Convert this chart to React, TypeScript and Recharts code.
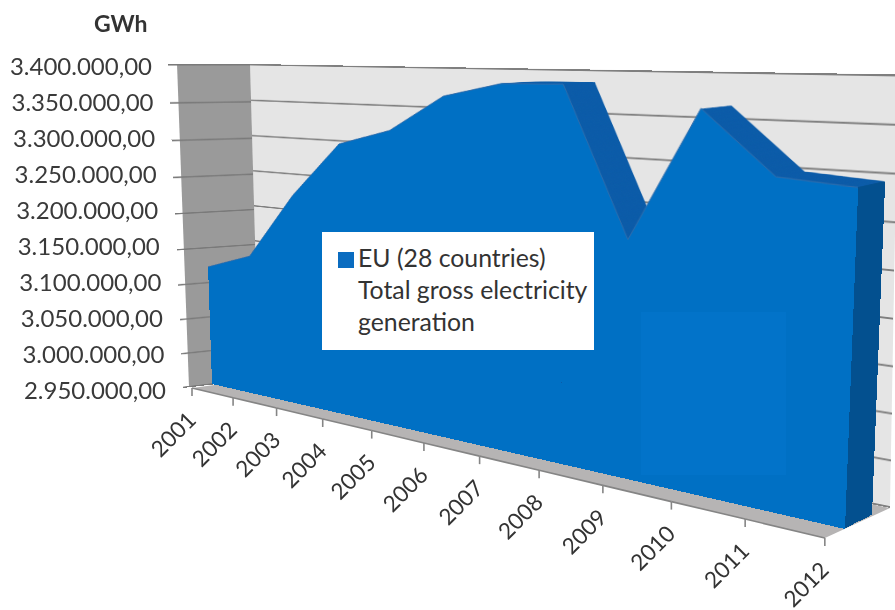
import React from "react";
import {
  Area,
  AreaChart,
  CartesianGrid,
  Legend,
  ReferenceLine,
  XAxis,
  YAxis,
} from "recharts";

const YEARS = ["2001", "2002", "2003", "2004", "2005", "2006", "2007", "2008", "2009", "2010", "2011", "2012"];
const GENERATION = [3115000, 3138000, 3225000, 3295000, 3315000, 3358000, 3374000, 3375000, 3213000, 3354000, 3290000, 3285000];
const Y_TICKS = [2950000, 3000000, 3050000, 3100000, 3150000, 3200000, 3250000, 3300000, 3350000, 3400000];
const LEGEND_LINES = ["EU (28 countries)", "Total gross electricity", "generation"];

const Y_MIN = 2950000;
const Y_MAX = 3400000;
const chartData = YEARS.map((year, i) => ({ year, value: GENERATION[i] }));

const FONT = "Lato, sans-serif";
const FACE = "#0070c4";
const SIDE = "#0b5ba8";
const END = "#03508f";

// flat size of every chart before it is projected onto its plane
const FLAT_W = 800;
const FLAT_H = 450;

type Pt = [number, number];
type Quad = [Pt, Pt, Pt, Pt]; // top-left, top-right, bottom-right, bottom-left

const FACE_QUAD: Quad = [[201, 57], [863, 64], [845, 529], [212, 384]];
const BACK_SHIFT: Quad = [[30, 0], [27, -3], [27, -14], [30, -2]];
const SWEEP_LAYERS = 26;

const WALL_QUAD: Quad = [[250, 64], [898, 74.5], [890, 508], [259, 379]];
const SIDE_WALL_QUAD: Quad = [[177, 64], [250, 64], [259, 379], [189, 387]];
const SIDE_GRID_QUAD: Quad = [[168, 64], [250, 64], [259, 379], [183, 388]];
const FLOOR_QUAD: Quad = [[259, 379], [890, 508], [825, 538], [192, 388]];

// CSS matrix taking the flat w x h box onto a quad
function quadMatrix(q: Quad, w = FLAT_W, h = FLAT_H) {
  const [[x0, y0], [x1, y1], [x2, y2], [x3, y3]] = q;
  const dx1 = x1 - x2;
  const dx2 = x3 - x2;
  const sx = x0 - x1 + x2 - x3;
  const dy1 = y1 - y2;
  const dy2 = y3 - y2;
  const sy = y0 - y1 + y2 - y3;
  const det = dx1 * dy2 - dx2 * dy1;
  const g = (sx * dy2 - dx2 * sy) / det;
  const k = (dx1 * sy - sx * dy1) / det;
  const a = x1 - x0 + g * x1;
  const b = x3 - x0 + k * x3;
  const d = y1 - y0 + g * y1;
  const e = y3 - y0 + k * y3;
  return `matrix3d(${a / w},${d / w},0,${g / w},${b / h},${e / h},0,${k / h},0,0,1,0,${x0},${y0},0,1)`;
}

function Plane({ quad, fill, children }: { quad: Quad; fill?: string; children?: React.ReactNode }) {
  return (
    <div
      style={{
        position: "absolute",
        left: 0,
        top: 0,
        width: FLAT_W,
        height: FLAT_H,
        background: fill,
        transformOrigin: "0 0",
        transform: quadMatrix(quad),
      }}
    >
      {children}
    </div>
  );
}

function GridPlane({ quad, stroke }: { quad: Quad; stroke: string }) {
  return (
    <Plane quad={quad}>
      <AreaChart width={FLAT_W} height={FLAT_H} data={chartData} margin={{ top: 1, right: 0, bottom: 1, left: 0 }}>
        <CartesianGrid vertical={false} stroke={stroke} strokeWidth={2} />
        <XAxis dataKey="year" hide />
        <YAxis hide domain={[Y_MIN, Y_MAX]} ticks={Y_TICKS} />
        <Area dataKey="value" fill="none" stroke="none" dot={false} activeDot={false} isAnimationActive={false} />
      </AreaChart>
    </Plane>
  );
}

function AreaPlane({ quad, fill, edge, endStroke }: { quad: Quad; fill: string; edge?: string; endStroke?: string }) {
  return (
    <Plane quad={quad}>
      <AreaChart width={FLAT_W} height={FLAT_H} data={chartData} margin={{ top: 0, right: 0, bottom: 0, left: 0 }}>
        <XAxis dataKey="year" hide />
        <YAxis hide domain={[Y_MIN, Y_MAX]} />
        <Area
          type="linear"
          dataKey="value"
          fill={fill}
          fillOpacity={1}
          stroke={edge ?? "none"}
          strokeWidth={1}
          dot={false}
          activeDot={false}
          isAnimationActive={false}
        />
        {endStroke && (
          <ReferenceLine
            segment={[
              { x: YEARS[YEARS.length - 1], y: Y_MIN },
              { x: YEARS[YEARS.length - 1], y: GENERATION[GENERATION.length - 1] },
            ]}
            stroke={endStroke}
            strokeWidth={4}
          />
        )}
      </AreaChart>
    </Plane>
  );
}

// the swept copies between the back and the front of the 3D area
function sweepQuad(amount: number): Quad {
  return FACE_QUAD.map((p, i) => [p[0] + BACK_SHIFT[i][0] * amount, p[1] + BACK_SHIFT[i][1] * amount]) as Quad;
}

// front edge of the floor, foreshortened towards 2001
function floorPoint(i: number): Pt {
  const x = (34.6 * i + 192) / (1 - 0.0278 * i);
  return [x, 388 + ((x - 192) * 150) / 633];
}

const formatValue = (v: number) =>
  `${Math.floor(v / 1000000)}.${String(Math.floor(v / 1000) % 1000).padStart(3, "0")}.${String(v % 1000).padStart(3, "0")},00`;

function YearTick({ index, payload }: any) {
  const [x, y] = floorPoint(index);
  const next = index < YEARS.length - 1 ? floorPoint(index + 1) : null;
  return (
    <g>
      {next && <line x1={x} y1={y} x2={next[0]} y2={next[1]} stroke="#858585" strokeWidth={1.6} />}
      <line x1={x} y1={y} x2={x} y2={y + 8} stroke="#858585" strokeWidth={1.6} />
      <text
        x={x - 13}
        y={y + 52}
        textAnchor="middle"
        fontFamily={FONT}
        fontSize={22.5}
        fill="#333"
        transform={`rotate(-45 ${x - 13} ${y + 52})`}
      >
        {payload.value}
      </text>
    </g>
  );
}

function ValueTick({ y, payload }: any) {
  const right = 152 + ((Y_MAX - payload.value) / (Y_MAX - Y_MIN)) * 14;
  return (
    <text x={right} y={y + 8} textAnchor="end" fontFamily={FONT} fontSize={24} fill="#3a3a3a">
      {formatValue(payload.value)}
    </text>
  );
}

function LegendBox() {
  return (
    <div
      style={{
        width: 272,
        height: 118,
        boxSizing: "border-box",
        background: "#fff",
        position: "relative",
        fontFamily: FONT,
        fontSize: 24.8,
        lineHeight: "32px",
        color: "#333",
        paddingTop: 10,
        paddingLeft: 36,
      }}
    >
      <div style={{ position: "absolute", left: 16, top: 20, width: 16, height: 16, background: "#0a6cc0" }} />
      {LEGEND_LINES.map((line) => (
        <div key={line}>{line}</div>
      ))}
    </div>
  );
}

export default function App() {
  const sweep = Array.from({ length: SWEEP_LAYERS }, (_, i) => 1 - i / SWEEP_LAYERS);
  return (
    <div style={{ position: "absolute", left: 0, top: 0, width: 895, height: 610, overflow: "hidden", background: "#fff" }}>
      <Plane quad={WALL_QUAD} fill="#e5e5e5" />
      <GridPlane quad={WALL_QUAD} stroke="#7f7f7f" />
      <Plane quad={SIDE_WALL_QUAD} fill="#9a9a9a" />
      <GridPlane quad={SIDE_GRID_QUAD} stroke="#7a7a7a" />
      <Plane quad={FLOOR_QUAD} fill="#b6b4b4" />

      {sweep.map((amount) => (
        <AreaPlane key={amount} quad={sweepQuad(amount)} fill={SIDE} endStroke={END} />
      ))}
      <AreaPlane quad={FACE_QUAD} fill={FACE} edge="#2f6cab" />

      {/* lighter block on the front face */}
      <div style={{ position: "absolute", left: 641, top: 312, width: 145, height: 163, background: "rgba(20,140,240,0.12)" }} />

      <div style={{ position: "absolute", left: 0, top: 0 }}>
        <AreaChart width={895} height={610} data={chartData} margin={{ top: 67, right: 0, bottom: 0, left: 0 }}>
          <XAxis dataKey="year" height={219} interval={0} axisLine={false} tickLine={false} tick={YearTick} />
          <YAxis width={160} domain={[Y_MIN, Y_MAX]} ticks={Y_TICKS} interval={0} axisLine={false} tickLine={false} tick={ValueTick} />
          <Area dataKey="value" fill="none" stroke="none" dot={false} activeDot={false} isAnimationActive={false} />
          <Legend
            layout="horizontal"
            verticalAlign="middle"
            align="center"
            content={LegendBox}
            wrapperStyle={{ left: 322, top: 232, width: 272, height: 118 }}
          />
        </AreaChart>
      </div>

      <div style={{ position: "absolute", left: 94, top: 9, fontFamily: FONT, fontWeight: 700, fontSize: 23, color: "#333" }}>GWh</div>
    </div>
  );
}
